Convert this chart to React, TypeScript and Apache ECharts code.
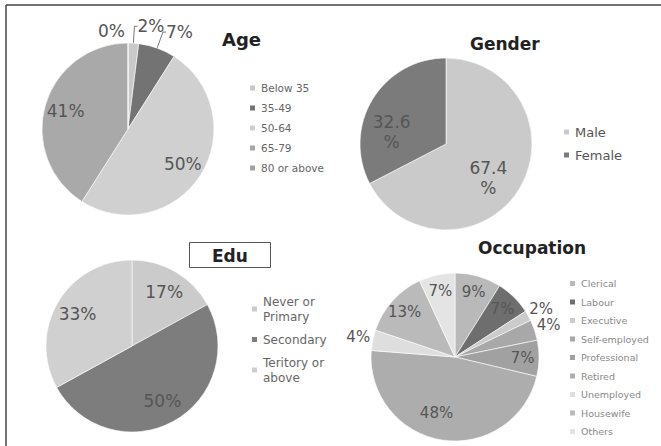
import React, { useEffect, useRef } from "react";
import * as echarts from "echarts";

// ---------- data ----------
const ageCategories = ["Below 35", "35-49", "50-64", "65-79", "80 or above"];
const ageValues = [2, 7, 50, 41, 0];
const genderCategories = ["Male", "Female"];
const genderValues = [67.4, 32.6];
const eduCategories = ["Never or\nPrimary", "Secondary", "Teritory or\nabove"];
const eduValues = [17, 50, 33];
const occCategories = [
  "Clerical",
  "Labour",
  "Executive",
  "Self-employed",
  "Professional",
  "Retired",
  "Unemployed",
  "Housewife",
  "Others",
];
const occValues = [9, 7, 2, 4, 7, 48, 4, 13, 7];

// ---------- styles ----------
const ageColors = ["#c9c9c9", "#737373", "#d0d0d0", "#a9a9a9", "#a0a0a0"];
const genderColors = ["#cacaca", "#7b7b7b"];
const eduColors = ["#cbcbcb", "#7d7d7d", "#d0d0d0"];
const occColors = [
  "#b9b9b9",
  "#6e6e6e",
  "#cbcbcb",
  "#a8a8a8",
  "#a1a1a1",
  "#adadad",
  "#dedede",
  "#bababa",
  "#e4e4e4",
];
// small label nudges (px) to mimic the original label placement
const genderLabelNudge = [[-8, 3], [-4, 19]];
const occLabelNudge: Record<number, number[]> = { 5: [-8, -11] };

const FONT = "DejaVu Sans";

function mainPie(id: string, center: number[], r: number, names: string[], values: number[], colors: string[], extra: any = {}) {
  return {
    type: "pie",
    id,
    center,
    radius: r,
    startAngle: 90,
    clockwise: true,
    avoidLabelOverlap: false,
    silent: true,
    label: { show: false },
    labelLine: { show: false },
    itemStyle: { borderColor: "#ffffff", borderWidth: 0.6 },
    data: names.map((n, i) => ({
      name: n,
      value: values[i],
      itemStyle: { color: colors[i] },
      ...(extra[i] || {}),
    })),
  };
}

function labelPie(
  id: string,
  center: number[],
  r: number,
  frac: number,
  names: string[],
  values: number[],
  show: (i: number) => boolean,
  formatter: (p: any) => string,
  fontSize: number,
  lineHeight: number,
  nudge: any = {}
) {
  return {
    type: "pie",
    id,
    center,
    radius: r * 2 * frac,
    startAngle: 90,
    clockwise: true,
    avoidLabelOverlap: false,
    minShowLabelAngle: 0,
    silent: true,
    legendHoverLink: false,
    labelLayout: { hideOverlap: false },
    itemStyle: { color: "rgba(0,0,0,0)", borderWidth: 0 },
    labelLine: { show: false },
    label: {
      position: "inside",
      formatter,
      color: "#555555",
      fontSize,
      lineHeight,
      fontFamily: FONT,
    },
    data: names.map((n, i) => ({
      name: n,
      value: values[i],
      label: { show: show(i), ...(nudge[i] ? { offset: nudge[i] } : {}) },
    })),
  };
}

const pct = (p: any) => `${p.value}%`;

export default function App() {
  const ref = useRef<HTMLDivElement>(null);

  useEffect(() => {
    if (!ref.current) return;
    const chart = echarts.init(ref.current, undefined, { renderer: "svg" });

    const ageCenter = [128, 129];
    const genderCenter = [446, 144];
    const eduCenter = [132, 346];
    const occCenter = [455, 357];

    const outsideLbl = {
      show: true,
      position: "outside",
      formatter: pct,
      color: "#555555",
      fontSize: 17,
      fontFamily: FONT,
      distanceToLabelLine: 0,
    };
    const leader = { show: true, length: 17, length2: 3, lineStyle: { color: "#777", width: 1 } };

    const ageExtra: any = {
      0: { label: outsideLbl, labelLine: leader },
      1: { label: outsideLbl, labelLine: leader },
      4: { label: { ...outsideLbl, distanceToLabelLine: 1 }, labelLine: { show: false, length: 12, length2: 2 } },
    };

    const legendBase = {
      orient: "vertical",
      icon: "rect",
      itemWidth: 7,
      itemHeight: 7,
      selectedMode: false,
      padding: 0,
    };

    const occOutIdx = [2, 3, 6];

    const option: any = {
      animation: false,
      backgroundColor: "#ffffff",
      title: [
        {
          text: "Age",
          left: 222,
          top: 30,
          padding: 0,
          textStyle: { fontFamily: FONT, fontSize: 18, fontWeight: "bold", color: "#222" },
        },
        {
          text: "Gender",
          left: 470,
          top: 35,
          padding: 0,
          textStyle: { fontFamily: FONT, fontSize: 17, fontWeight: "bold", color: "#222" },
        },
        {
          text: "Occupation",
          left: 478,
          top: 239,
          padding: 0,
          textStyle: { fontFamily: FONT, fontSize: 17, fontWeight: "bold", color: "#222" },
        },
        {
          text: "Edu",
          left: 189,
          top: 242,
          padding: [5, 23, 4, 23],
          borderColor: "#555",
          borderWidth: 1,
          textStyle: { fontFamily: FONT, fontSize: 17, fontWeight: "bold", color: "#222" },
        },
      ],
      legend: [
        {
          ...legendBase,
          left: 248,
          top: 81,
          itemGap: 6,
          data: ageCategories,
          textStyle: { fontFamily: FONT, fontSize: 10.5, color: "#666", lineHeight: 14 },
        },
        {
          ...legendBase,
          left: 562,
          top: 124,
          itemGap: 7,
          data: genderCategories,
          textStyle: { fontFamily: FONT, fontSize: 13, color: "#555", lineHeight: 16 },
        },
        {
          ...legendBase,
          left: 250,
          top: 294,
          itemGap: 8,
          data: eduCategories,
          textStyle: { fontFamily: FONT, fontSize: 12, color: "#666", lineHeight: 15 },
        },
        {
          ...legendBase,
          left: 568,
          top: 277,
          itemGap: 5.5,
          data: occCategories,
          textStyle: { fontFamily: FONT, fontSize: 9.5, color: "#888", lineHeight: 13 },
        },
      ],
      graphic: [
        { type: "line", shape: { x1: 6, y1: 5, x2: 661, y2: 5 }, style: { stroke: "#444", lineWidth: 1.5 } },
        { type: "line", shape: { x1: 6, y1: 5, x2: 6, y2: 446 }, style: { stroke: "#444", lineWidth: 1.5 } },
      ],
      series: [
        mainPie("age", ageCenter, 86, ageCategories, ageValues, ageColors, ageExtra),
        mainPie("gender", genderCenter, 86, genderCategories, genderValues, genderColors),
        mainPie("edu", eduCenter, 86, eduCategories, eduValues, eduColors),
        mainPie("occ", occCenter, 84, occCategories, occValues, occColors),
        labelPie("ageLbl", ageCenter, 86, 0.72, ageCategories, ageValues, (i) => i === 2 || i === 3, pct, 17, 20),
        labelPie(
          "genderLbl",
          genderCenter,
          86,
          0.65,
          genderCategories,
          genderValues,
          () => true,
          (p: any) => `${p.value}\n%`,
          17,
          20,
          genderLabelNudge
        ),
        labelPie("eduLbl", eduCenter, 86, 0.7, eduCategories, eduValues, () => true, pct, 17, 20),
        labelPie("occIn", occCenter, 84, 0.77, occCategories, occValues, (i) => !occOutIdx.includes(i), pct, 15, 18, occLabelNudge),
        labelPie("occOut", occCenter, 84, 1.14, occCategories, occValues, (i) => occOutIdx.includes(i), pct, 15, 18),
      ],
    };

    chart.setOption(option);
    return () => chart.dispose();
  }, []);

  return (
    <div
      ref={ref}
      style={{ position: "fixed", left: 0, top: 0, width: 661, height: 446, background: "#fff" }}
    />
  );
}
